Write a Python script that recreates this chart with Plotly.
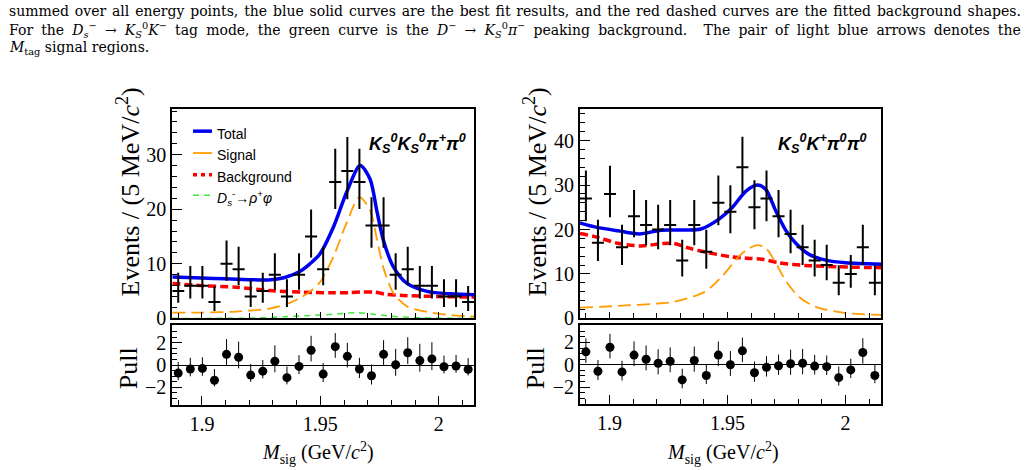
import plotly.graph_objects as go

W, H = 1029, 470

# ---------------- data ----------------
bin_centers = [1.8900, 1.8951, 1.9002, 1.9053, 1.9104, 1.9155, 1.9206, 1.9257, 1.9308, 1.9359,
               1.9410, 1.9461, 1.9512, 1.9563, 1.9614, 1.9665, 1.9716, 1.9767, 1.9818, 1.9869,
               1.9920, 1.9971, 2.0022, 2.0073, 2.0124]

left_counts = [5, 6, 6, 3, 10, 9, 4, 5, 8, 4, 8, 15, 9, 25, 27, 25, 17, 17, 8, 9, 6, 6, 4, 4, 3]
left_err_hi = [3.38, 3.58, 3.58, 2.92, 4.27, 4.11, 3.16, 3.38, 3.94, 3.16, 3.94, 4.96, 4.11, 6.07, 6.26,
               6.07, 5.20, 5.20, 3.94, 4.11, 3.58, 3.58, 3.16, 3.16, 2.92]
left_err_lo = [2.16, 2.38, 2.38, 1.63, 3.11, 2.94, 1.91, 2.16, 2.77, 1.91, 2.77, 3.83, 2.94, 4.97, 5.16,
               4.97, 4.08, 4.08, 2.77, 2.94, 2.38, 2.38, 1.91, 1.91, 1.63]
left_pull = [-0.72, -0.35, -0.30, -1.36, 0.96, 0.70, -0.90, -0.55, 0.35, -1.13, -0.12, 1.33, -0.81,
             1.65, 0.78, -0.35, -0.96, 0.96, 0.03, 1.10, 0.40, 0.55, -0.15, -0.09, -0.38]

right_counts = [27, 17, 28, 16, 23, 21, 20, 21, 13, 21, 15, 26, 24, 34, 25, 27, 23, 19, 16, 13, 12, 8, 10, 16, 8]
right_err_hi = [6.26, 5.20, 6.35, 5.08, 5.87, 5.66, 5.55, 5.66, 4.70, 5.66, 4.96, 6.16, 5.97, 6.86, 6.07,
                6.26, 5.87, 5.44, 5.08, 4.70, 4.57, 3.94, 4.27, 5.08, 3.94]
right_err_lo = [5.16, 4.08, 5.26, 3.96, 4.76, 4.54, 4.43, 4.54, 3.56, 4.54, 3.83, 5.07, 4.86, 5.79, 4.97,
                5.16, 4.76, 4.32, 3.96, 3.56, 3.41, 2.77, 3.11, 3.96, 2.77]
right_pull = [1.16, -0.58, 1.57, -0.64, 0.87, 0.49, 0.14, 0.32, -1.36, 0.38, -0.96, 0.87, 0.00, 1.25,
              -0.72, -0.23, -0.09, 0.09, 0.14, -0.12, -0.17, -1.16, -0.46, 1.10, -0.96]

# fitted curves
l_total_x = [1.8875, 1.900, 1.910, 1.920, 1.928, 1.935, 1.9413, 1.9456, 1.9498, 1.9554, 1.9611, 1.9668,
             1.9710, 1.9739, 1.9767, 1.9809, 1.9866, 1.9951, 2.005, 2.015]
l_total_y = [7.6, 7.4, 7.25, 7.1, 7.05, 7.5, 8.6, 10.0, 11.8, 16.6, 23.1, 28.0,
             25.5, 19.6, 14.2, 9.4, 6.4, 4.95, 4.5, 4.35]
l_sig_x = [1.8875, 1.900, 1.9144, 1.9286, 1.9357, 1.9413, 1.9456, 1.9498, 1.9554, 1.9611, 1.9665,
           1.9710, 1.9739, 1.9767, 1.9809, 1.9866, 1.9951, 2.005, 2.015]
l_sig_y = [1.07, 1.07, 1.25, 1.8, 2.6, 3.7, 4.9, 6.6, 11.2, 17.5, 22.2,
           19.8, 14.5, 9.2, 4.6, 2.2, 1.2, 0.6, 0.35]
l_bkg_x = [1.8875, 1.900, 1.9144, 1.9286, 1.9427, 1.955, 1.962, 1.968, 1.973, 1.978, 1.985, 2.000, 2.015]
l_bkg_y = [6.4, 6.0, 5.7, 5.1, 4.8, 4.7, 4.7, 4.85, 4.8, 4.4, 4.2, 4.0, 3.9]
l_peak_x = [1.8875, 1.920, 1.935, 1.945, 1.955, 1.965, 1.972, 1.980, 1.990, 2.000, 2.015]
l_peak_y = [0.0, 0.05, 0.3, 0.5, 0.75, 1.05, 0.8, 0.4, 0.15, 0.05, 0.0]

r_total_x = [1.8875, 1.8937, 1.9036, 1.9127, 1.9218, 1.9300, 1.9387, 1.9465, 1.9521, 1.9577, 1.9627,
             1.9662, 1.9704, 1.9746, 1.9789, 1.9845, 1.9916, 2.000, 2.015]
r_total_y = [21.5, 20.6, 19.7, 19.0, 19.85, 19.9, 20.1, 22.4, 25.0, 28.6, 30.0,
             29.0, 24.2, 19.85, 16.9, 14.4, 13.1, 12.5, 12.2]
r_sig_x = [1.8875, 1.9036, 1.9218, 1.9268, 1.9401, 1.9479, 1.9549, 1.9592, 1.9627, 1.9662, 1.9704,
           1.9746, 1.9803, 1.9873, 2.000, 2.015]
r_sig_y = [2.4, 2.8, 3.4, 3.7, 5.9, 9.6, 14.0, 15.8, 16.5, 15.8, 12.5, 8.5, 4.8, 2.6, 1.2, 0.8]
r_bkg_x = [1.8875, 1.8937, 1.9036, 1.9134, 1.9218, 1.9268, 1.9338, 1.9408, 1.9521, 1.9592, 1.9648,
           1.9718, 1.9831, 1.9972, 2.015]
r_bkg_y = [19.1, 18.4, 16.9, 16.3, 16.8, 16.9, 15.8, 14.9, 13.8, 13.5, 13.3, 12.5, 11.9, 11.6, 11.4]

x_ticks = [1.9, 1.95, 2.0]
x_tick_text = ["1.9", "1.95", "2"]
x_minor_ticks = [1.89, 1.90, 1.91, 1.92, 1.93, 1.94, 1.95, 1.96, 1.97, 1.98, 1.99, 2.00, 2.01]
half_bin = 0.00255

# ---------------- colours / styles ----------------
BLUE = "#0000f0"
ORANGE = "#ff9d00"
RED = "#ff0000"
GREEN = "#40e840"
SERIF = "Liberation Serif"
SANS = "Liberation Sans"
CAPF = "DejaVu Serif"


def px_x(a, b):
    return [a / W, b / W]


def px_y(top, bottom):
    return [1 - bottom / H, 1 - top / H]


fig = go.Figure()


def pull_errs(err_hi, err_lo, pulls):
    up, dn = [], []
    for h, l, p in zip(err_hi, err_lo, pulls):
        if p >= 0:
            up.append(h / l)
            dn.append(1.0)
        else:
            up.append(1.0)
            dn.append(l / h)
    return up, dn


def add_panel(xa, ya, xp, yp, counts, ehi, elo, pulls, curves):
    for cx, cy, color, width, dash in curves:
        fig.add_trace(go.Scatter(x=cx, y=cy, mode="lines", line=dict(color=color, width=width, dash=dash,
                                                                       shape="spline", smoothing=0.8),
                                 xaxis=xa, yaxis=ya, showlegend=False, hoverinfo="skip"))
    fig.add_trace(go.Scatter(
        x=bin_centers, y=counts, mode="markers", marker=dict(size=1, color="black"),
        error_y=dict(type="data", symmetric=False, array=ehi, arrayminus=elo, color="black",
                     thickness=2, width=0),
        error_x=dict(type="constant", value=half_bin, color="black", thickness=2, width=0),
        xaxis=xa, yaxis=ya, showlegend=False))
    up, dn = pull_errs(ehi, elo, pulls)
    fig.add_trace(go.Scatter(
        x=bin_centers, y=pulls, mode="markers", marker=dict(size=9, color="black"),
        error_y=dict(type="data", symmetric=False, array=up, arrayminus=dn, color="black",
                     thickness=1, width=0),
        xaxis=xp, yaxis=yp, showlegend=False))


add_panel("x", "y", "x2", "y2", left_counts, left_err_hi, left_err_lo, left_pull, [
    (l_peak_x, l_peak_y, GREEN, 1.5, "6px,5px"),
    (l_bkg_x, l_bkg_y, RED, 3.5, "8px,4px"),
    (l_sig_x, l_sig_y, ORANGE, 1.8, "13px,6px"),
    (l_total_x, l_total_y, BLUE, 3.5, "solid"),
])
add_panel("x3", "y3", "x4", "y4", right_counts, right_err_hi, right_err_lo, right_pull, [
    (r_bkg_x, r_bkg_y, RED, 3.5, "8px,4px"),
    (r_sig_x, r_sig_y, ORANGE, 1.8, "13px,6px"),
    (r_total_x, r_total_y, BLUE, 3.5, "solid"),
])

tickfont = dict(family=SERIF, size=20, color="black")
common_x = dict(range=[1.8875, 2.015], tickvals=x_ticks, ticktext=x_tick_text, ticks="inside",
                ticklen=9, tickwidth=1, tickcolor="black", showline=True, linecolor="black", linewidth=2,
                mirror=True, showgrid=False, zeroline=False, tickfont=tickfont,
                minor=dict(tickvals=x_minor_ticks, ticks="inside", ticklen=5, tickcolor="black", tickwidth=1))
common_y = dict(ticks="inside", ticklen=10, tickwidth=1, tickcolor="black", showline=True, linecolor="black",
                linewidth=2, mirror=True, showgrid=False, tickfont=tickfont, ticklabelstandoff=0)

LX = (172.3, 474.3)
RX = (580.0, 881.0)
fig.update_layout(
    width=W, height=H, margin=dict(l=0, r=0, t=0, b=0), plot_bgcolor="white", paper_bgcolor="white",
    showlegend=False,
    xaxis=dict(common_x, domain=px_x(*LX), anchor="y", showticklabels=False, ticklen=6),
    yaxis=dict(common_y, domain=px_y(112, 326), anchor="x", range=[0, 38.3], tickvals=[0, 10, 20, 30],
               zeroline=False, minor=dict(dtick=2, ticks="inside", ticklen=5, tickcolor="black")),
    xaxis2=dict(common_x, domain=px_x(*LX), anchor="y2", ticklabelstandoff=0),
    yaxis2=dict(common_y, domain=px_y(333.3, 414.3), anchor="x2", range=[-3.55, 3.55], tickvals=[-2, 0, 2],
                ticktext=["\u22122", "0", "2"], zeroline=True, zerolinecolor="black", zerolinewidth=1,
                minor=dict(dtick=0.5, ticks="inside", ticklen=5, tickcolor="black")),
    xaxis3=dict(common_x, domain=px_x(*RX), anchor="y3", showticklabels=False, ticklen=6),
    yaxis3=dict(common_y, domain=px_y(111.7, 326), anchor="x3", range=[0, 47.1], tickvals=[0, 10, 20, 30, 40],
                zeroline=False, minor=dict(dtick=2, ticks="inside", ticklen=5, tickcolor="black")),
    xaxis4=dict(common_x, domain=px_x(*RX), anchor="y4", ticklabelstandoff=0),
    yaxis4=dict(common_y, domain=px_y(333, 414), anchor="x4", range=[-3.55, 3.55], tickvals=[-2, 0, 2],
                ticktext=["\u22122", "0", "2"], zeroline=True, zerolinecolor="black", zerolinewidth=1,
                minor=dict(dtick=0.5, ticks="inside", ticklen=5, tickcolor="black")),
)

ann = []


def text(x, y, s, size, family=SERIF, xanchor="center", angle=0, yanchor="middle"):
    ann.append(dict(x=x / W, y=1 - y / H, xref="paper", yref="paper", text=s, showarrow=False,
                    font=dict(family=family, size=size, color="black"), xanchor=xanchor, yanchor=yanchor,
                    textangle=angle))


# caption: justified lines via word-spacing
line1 = ("<span style='word-spacing:1.4px'>summed over all energy points, the blue solid curves are the best "
         "fit results, and the red dashed curves are the fitted background shapes.</span>")
line2 = ("<span style='word-spacing:3.7px'>For the <i>D</i><sub><i>s</i></sub><sup>\u2212</sup> \u2192 "
         "<i>K</i><sub><i>S</i></sub><sup>0</sup><i>K</i><sup>\u2212</sup> tag mode, the green curve is the "
         "<i>D</i><sup>\u2212</sup> \u2192 <i>K</i><sub><i>S</i></sub><sup>0</sup><i>\u03c0</i><sup>\u2212</sup> "
         "peaking background.  The pair of light blue arrows denotes the</span>")
text(7, 11, line1, 14, family=CAPF, xanchor="left")
text(7, 30.5, line2, 14, family=CAPF, xanchor="left")
text(7, 49.5, "<i>M</i><sub>tag</sub> signal regions.", 14, family=CAPF, xanchor="left")

# axis titles
ytitle = "Events / (5 MeV/<i>c</i><sup>2</sup>)"
text(128, 197, ytitle, 26, angle=-90)
text(535, 197, ytitle, 26, angle=-90)
text(128, 377, "Pull", 26, angle=-90)
text(535, 377, "Pull", 26, angle=-90)
xtitle = "<i>M</i><sub>sig</sub> (GeV/<i>c</i><sup>2</sup>)"
text(318, 464, xtitle, 20)
text(723, 464, xtitle, 20)

# channel labels
text(417, 147, "<b><i>K<sub>S</sub><sup>0</sup>K<sub>S</sub><sup>0</sup>\u03c0<sup>+</sup>\u03c0<sup>0</sup></i></b>",
     18, family=SANS)
text(822, 147, "<b><i>K<sub>S</sub><sup>0</sup>K<sup>+</sup>\u03c0<sup>0</sup>\u03c0<sup>0</sup></i></b>",
     18, family=SANS)

# legend (left panel)
leg = [("Total", 134.3, BLUE, 3.5, "solid"),
       ("Signal", 156.7, ORANGE, 1.8, "solid"),
       ("Background", 179.0, RED, 3.5, "4px,4px"),
       ("<i>D</i><sub><i>s</i></sub><sup>-</sup>\u2192<i>\u03c1</i><sup>+</sup><i>\u03c6</i>", 200.0, GREEN, 1.5,
        "6px,5px")]
shapes = []
for label, yy, col, wd, dsh in leg:
    shapes.append(dict(type="line", xref="paper", yref="paper", x0=193 / W, x1=212 / W, y0=1 - yy / H,
                       y1=1 - yy / H, line=dict(color=col, width=wd, dash=dsh)))
    text(215, yy + 2.5, label, 14, family=SANS, xanchor="left")

fig.update_layout(annotations=ann, shapes=shapes)
fig.write_html("out.html")
